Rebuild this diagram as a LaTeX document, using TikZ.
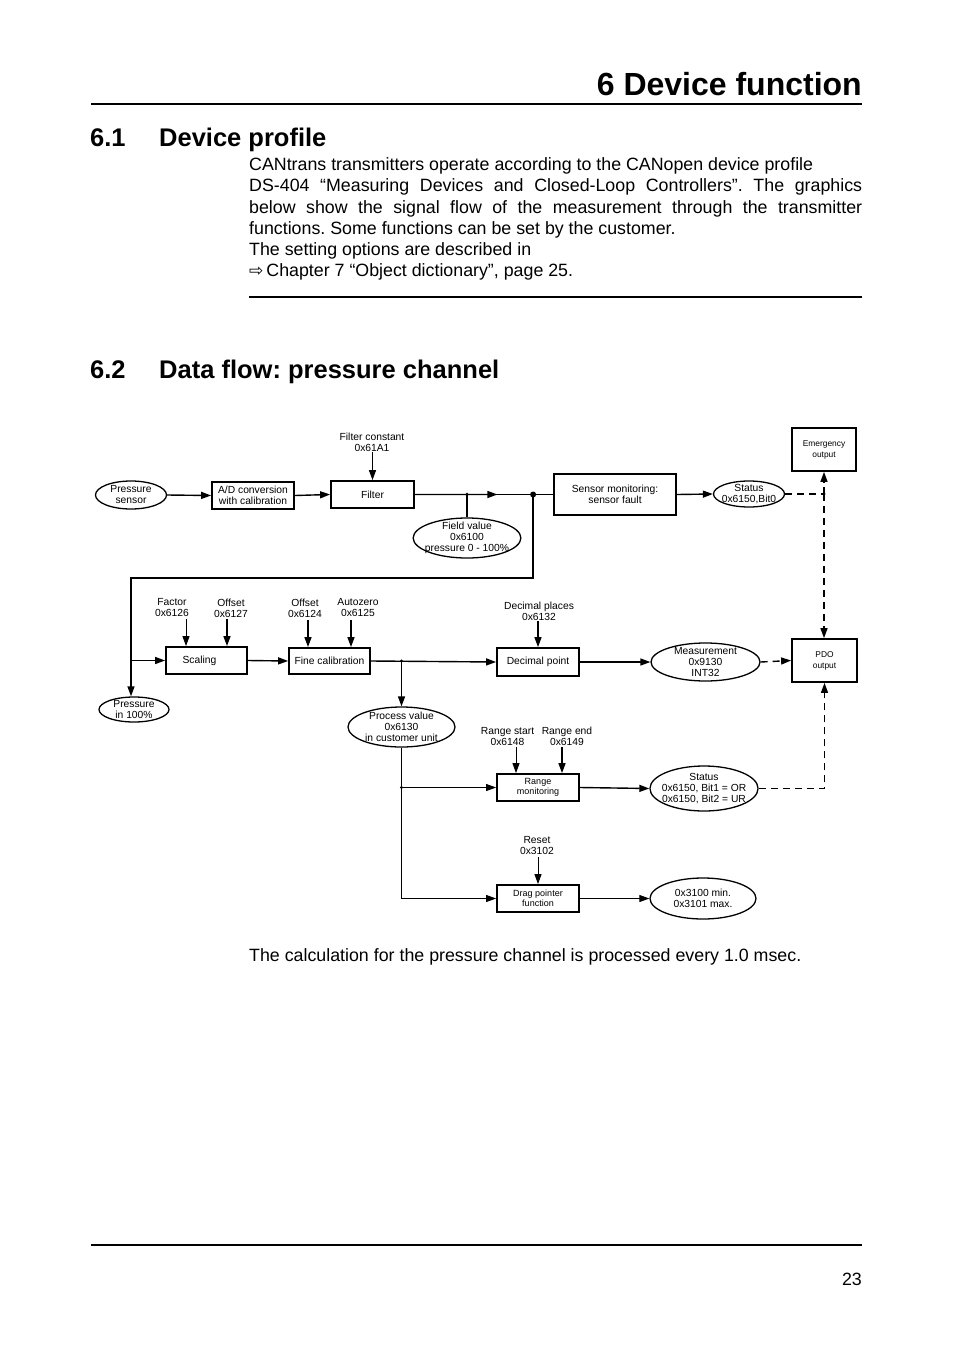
\documentclass[tikz,border=0pt]{standalone}
\usepackage{fontspec}
\setmainfont{Liberation Sans}
\newfontfamily\symfont{DejaVu Sans}
\usetikzlibrary{arrows.meta, shapes.geometric, calc}
\frenchspacing

\newcommand\diafont{\fontsize{10.3}{11}\selectfont}
\newcommand\boxfont{\fontsize{9}{10.5}\selectfont}
\newcommand\tinyfont{\fontsize{8.4}{11}\selectfont}
\newcommand\bodyfont{\fontsize{17.8}{21}\selectfont}

\tikzset{
  wire/.style={line width=1.4pt},
  thin wire/.style={line width=0.9pt},
  flow/.style={wire, -{Triangle[length=10pt,width=7pt]}},
  thin flow/.style={thin wire, -{Triangle[length=10pt,width=7pt]}},
  dash line/.style={line width=1.4pt, dash pattern=on 7pt off 5pt},
  dash flow/.style={dash line, -{Triangle[length=10pt,width=7pt]}},
  block/.style={draw, line width=1.8pt, align=center, inner sep=1pt, font=\diafont},
  value/.style={ellipse, draw, line width=1.3pt, align=center, inner xsep=-4pt, inner ysep=-3pt, font=\diafont},
  param/.style={align=center, inner sep=0pt, font=\diafont},
  body/.style={anchor=base west, inner sep=0pt, font=\bodyfont},
}

\begin{document}
\begin{tikzpicture}[x=1pt, y=-1pt]
\useasboundingbox (0,0) rectangle (954,1351);

% page head
\node[anchor=base east, inner sep=0pt, font=\fontsize{32}{36}\selectfont\bfseries] (chap) at (862,96) {6 Device function};
\draw[line width=1.2pt] (91,104) -- (862,104);
\node[anchor=base west, inner sep=0pt, font=\fontsize{25.5}{30}\selectfont\bfseries] (secA) at (90,147) {6.1};
\node[anchor=base west, inner sep=0pt, font=\fontsize{25.5}{30}\selectfont\bfseries] (secAt) at (159,147) {Device profile};

\node[body] (l1) at (249,171) {CANtrans transmitters operate according to the CANopen device profile};
\node[body] (l2) at (249,192) {\makebox[613pt][s]{DS-404 “Measuring Devices and Closed-Loop Controllers”. The graphics}};
\node[body] (l3) at (249,213) {\makebox[613pt][s]{below show the signal flow of the measurement through the transmitter}};
\node[body] (l4) at (249,234) {functions. Some functions can be set by the customer.};
\node[body] (l5) at (249,255) {The setting options are described in};
\node[body] (l6) at (249,276) {{\symfont\fontsize{17}{17}\selectfont ⇨}\,Chapter 7 “Object dictionary”, page 25.};
\draw[line width=1.2pt] (249,297) -- (862,297);

\node[anchor=base west, inner sep=0pt, font=\fontsize{25.5}{30}\selectfont\bfseries] (secB) at (90,378) {6.2};
\node[anchor=base west, inner sep=0pt, font=\fontsize{25.5}{30}\selectfont\bfseries] (secBt) at (159,378) {Data flow: pressure channel};

% first row
\node[value, minimum width=71pt, minimum height=28pt] (sens) at (131,495) {Pressure\\sensor};
\node[block, minimum width=82pt, minimum height=27pt] (adc) at (253,495.5) {A/D conversion\\with calibration};
\node[block, minimum width=83pt, minimum height=27pt] (filt) at (372.5,494.5) {Filter};
\node[param] (fconst) at (372,442) {Filter constant\\0x61A1};
\node[value, minimum width=106pt, minimum height=40pt] (field) at (467,538) {Field value\\0x6100\\pressure 0 - 100\%};
\node[block, minimum width=122pt, minimum height=41pt] (smon) at (615,494.5) {Sensor monitoring:\\sensor fault};
\node[value, minimum width=71pt, minimum height=26pt] (st0) at (749,494) {Status\\0x6150,Bit0};
\node[block, font=\tinyfont, minimum width=64pt, minimum height=43pt] (emer) at (824,449.5) {Emergency\\output};

\coordinate (jf) at (field.north |- filt.east);
\coordinate (jb) at ($(smon.west)+(-20,0)$);
\coordinate (rt) at (131,578);
\coordinate (jst) at (emer.south |- st0.east);

\draw[flow] (sens.east) -- (adc.west);
\draw[flow] (adc.east) -- (filt.west);
\draw[flow] ([yshift=28pt]filt.north) -- (filt.north);
\draw[wire] (filt.east) -- (smon.west);
\draw[flow] (filt.east) -- ($(jf)!0.46!(jb)$);
\draw[wire] (jf) -- (field.north);
\draw[flow] (smon.east) -- (st0.west);
\fill (jf) circle (1.8pt);
\fill (jb) circle (3pt);

% second row
\node[value, minimum width=70pt, minimum height=25pt] (p100) at (134,709.5) {Pressure\\in 100\%};
\node[block, minimum width=81pt, minimum height=27pt] (scal) at (206.5,660.5) {Scaling\hspace*{14pt}};
\node[param] (factor) at (172,608) {Factor\\0x6126};
\node[param] (offa) at (231,608) {Offset\\0x6127};
\node[block, minimum width=81pt, minimum height=26pt] (fine) at (329.5,661) {Fine calibration};
\node[param] (offb) at (305,608) {Offset\\0x6124};
\node[param] (azero) at (358,608) {Autozero\\0x6125};
\node[block, minimum width=82pt, minimum height=28pt] (dec) at (538,662) {Decimal point};
\node[param] (decpl) at (539,611) {Decimal places\\0x6132};
\node[value, minimum width=109pt, minimum height=38pt] (meas) at (705.5,662) {Measurement\\0x9130\\INT32};
\node[block, font=\tinyfont, minimum width=65pt, minimum height=43pt] (pdo) at (824.5,660.5) {PDO\\output};

\coordinate (jp) at (401.5,661);

\draw[flow] (jb) |- (rt) -- (rt |- p100.north);
\draw[flow] (rt |- scal.west) -- (scal.west);
\draw[thin flow] ([xshift=-20.5pt,yshift=27pt]scal.north) -- ([xshift=-20.5pt]scal.north);
\draw[flow] ([xshift=20.5pt,yshift=27pt]scal.north) -- ([xshift=20.5pt]scal.north);
\draw[flow] (scal.east) -- (fine.west);
\draw[flow] ([xshift=-21.5pt,yshift=27pt]fine.north) -- ([xshift=-21.5pt]fine.north);
\draw[flow] ([xshift=21.5pt,yshift=27pt]fine.north) -- ([xshift=21.5pt]fine.north);
\draw[flow] (fine.east) -- (dec.west);
\draw[flow] ([yshift=26pt]dec.north) -- (dec.north);
\draw[flow] (dec.east) -- (meas.west);
\draw[dash flow] (meas.east) -- (pdo.west);
\fill (jp) circle (1.6pt);

% status to outputs
\draw[dash line] (st0.east) -- (jst);
\draw[dash flow] (jst) -- (emer.south);
\draw[dash flow] (jst) -- (jst |- pdo.north);
\fill (jst) circle (1.6pt);

% process value branch
\node[value, minimum width=107pt, minimum height=40pt] (proc) at (401.5,727) {Process value\\0x6130\\in customer unit};
\node[block, font=\boxfont, minimum width=82pt, minimum height=27pt] (rmon) at (538,787.5) {Range\\monitoring};
\node[param] (rstart) at (507.5,736) {Range start\\0x6148};
\node[param] (rend) at (567,736) {Range end\\0x6149};
\node[value, minimum width=106pt, minimum height=45pt] (st12) at (704,788.5) {Status\\0x6150, Bit1 = OR\\0x6150, Bit2 = UR};
\node[block, font=\boxfont, minimum width=82pt, minimum height=27pt] (drag) at (538,898.5) {Drag pointer\\function};
\node[param] (reset) at (537,845) {Reset\\0x3102};
\node[value, minimum width=106pt, minimum height=41pt] (mm) at (703,898.5) {0x3100 min.\\0x3101 max.};

\draw[flow] (jp) -- (proc.north);
\draw[wire] (proc.south) -- (proc.south |- drag.west);
\draw[thin flow] (proc.south |- drag.west) -- (drag.west);
\draw[thin flow] (proc.south |- rmon.west) -- (rmon.west);
\fill (proc.south |- rmon.west) circle (1.6pt);
\draw[thin flow] ([xshift=-22pt,yshift=26pt]rmon.north) -- ([xshift=-22pt]rmon.north);
\draw[flow] ([xshift=24pt,yshift=26pt]rmon.north) -- ([xshift=24pt]rmon.north);
\draw[flow] (rmon.east) -- (st12.west);
\draw[dash flow] (st12.east) -| (pdo.south);
\draw[thin flow] ([yshift=27pt]drag.north) -- (drag.north);
\draw[thin flow] (drag.east) -- (mm.west);

% page foot
\node[body] (note) at (249,961) {The calculation for the pressure channel is processed every 1.0 msec.};
\draw[line width=1.2pt] (91,1245) -- (862,1245);
\node[anchor=base east, inner sep=0pt, font=\bodyfont] (page) at (862,1285) {23};
\end{tikzpicture}
\end{document}
